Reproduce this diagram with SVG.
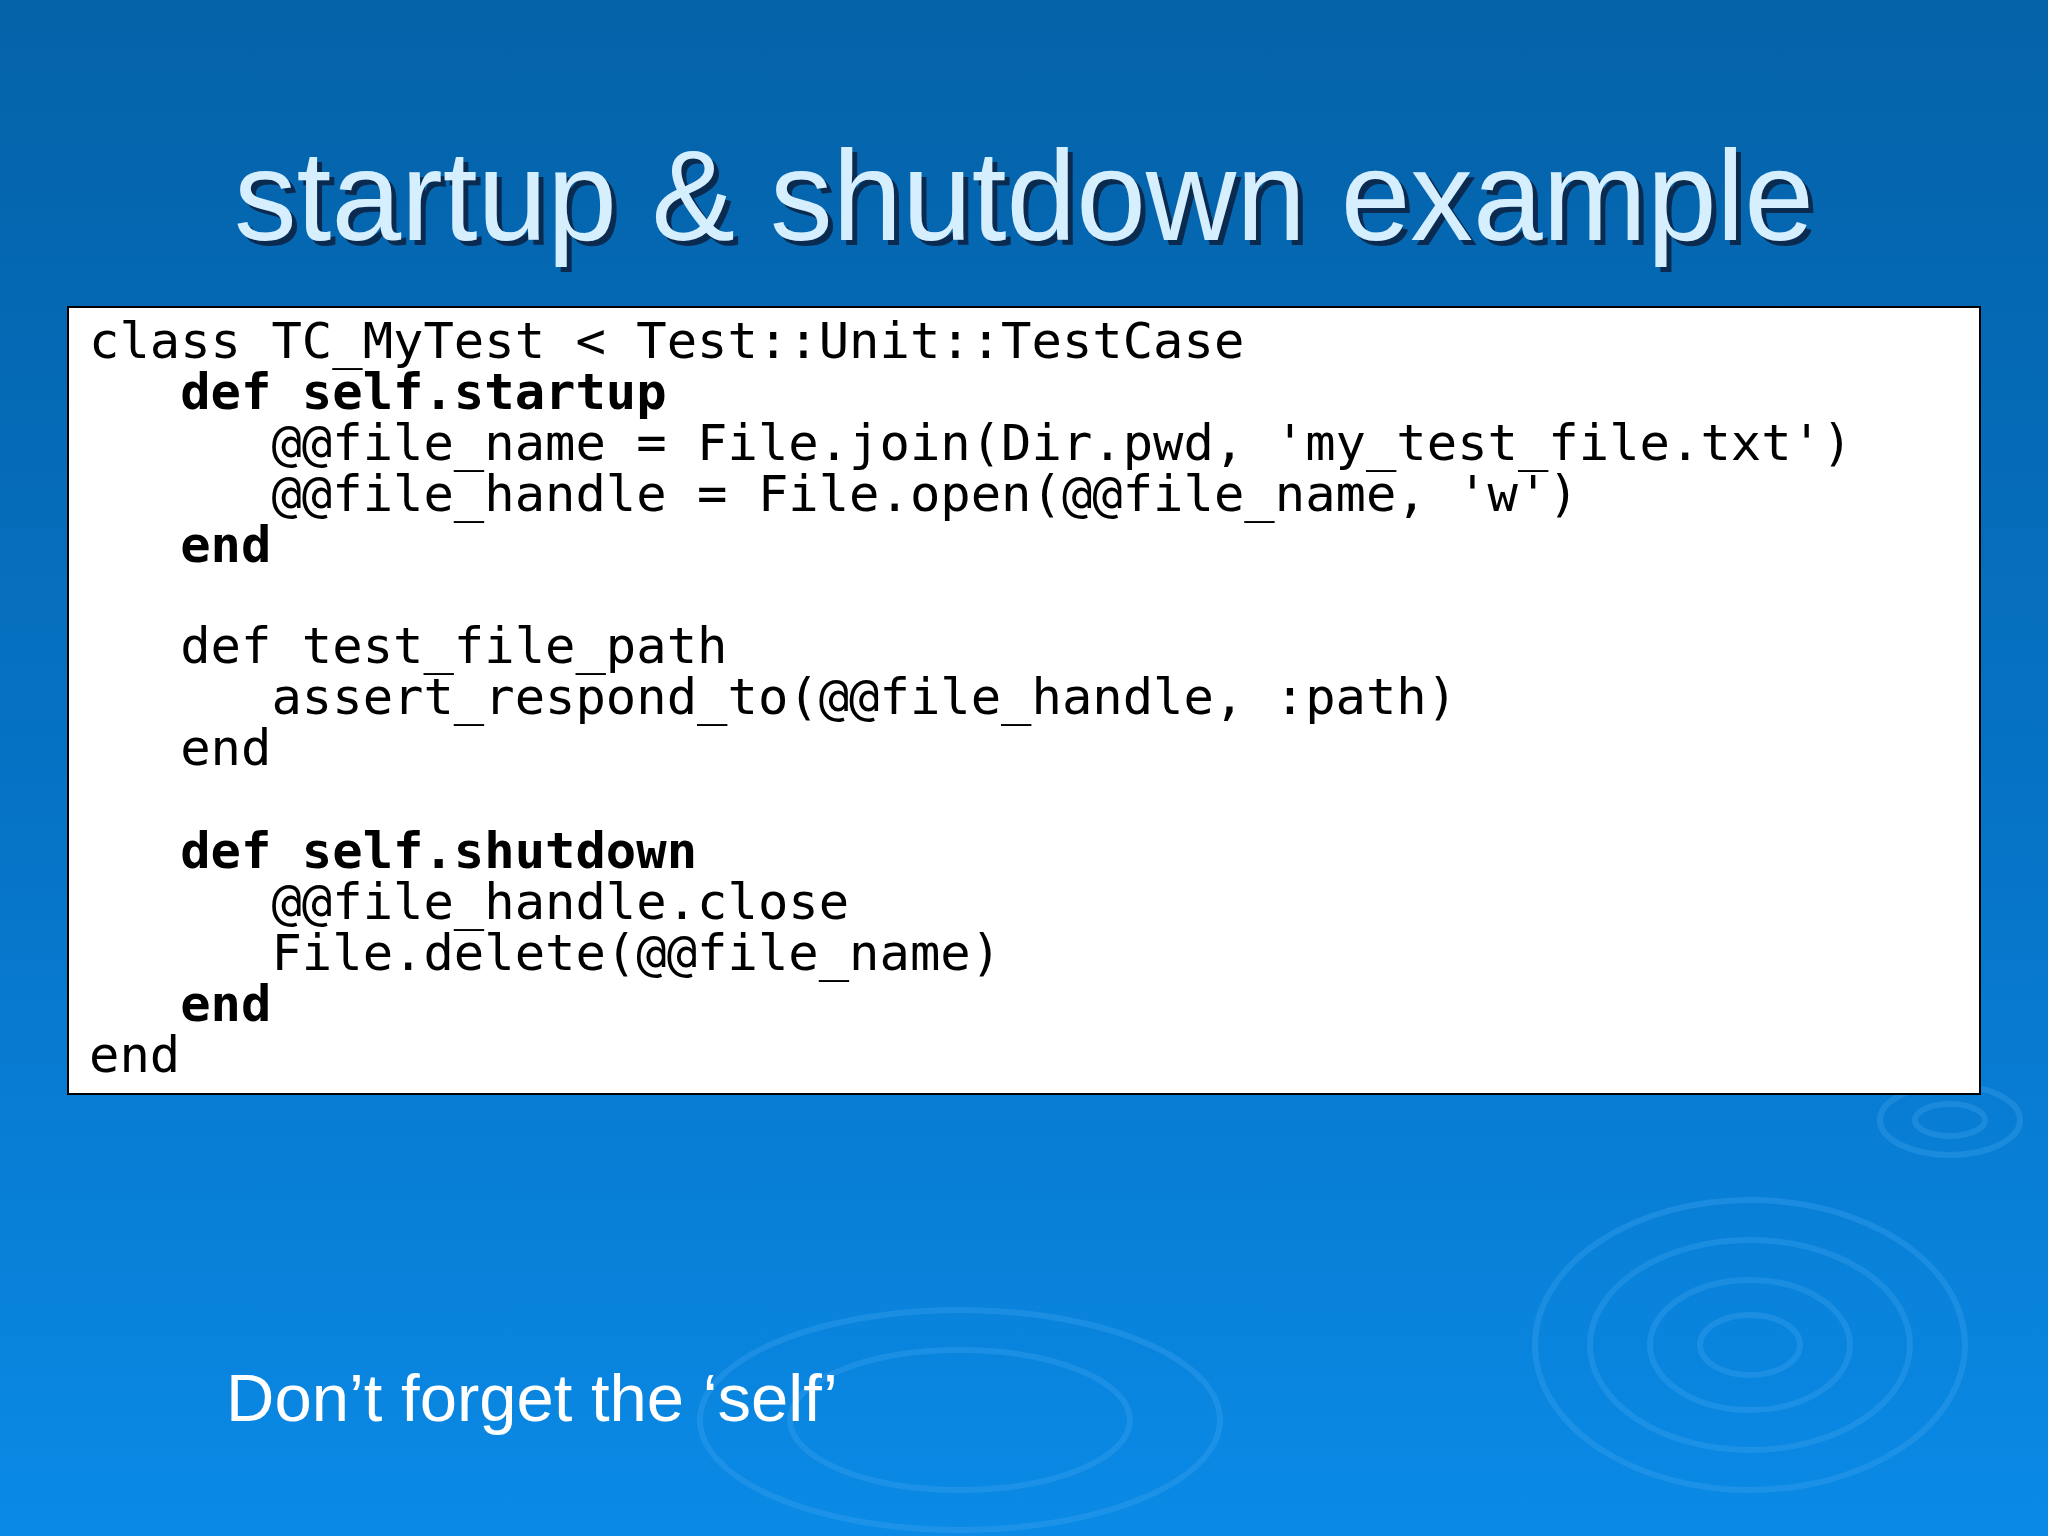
<svg xmlns="http://www.w3.org/2000/svg" width="2048" height="1536" viewBox="0 0 2048 1536">
<defs>
<linearGradient id="bg" x1="0" y1="0" x2="0" y2="1">
<stop offset="0" stop-color="#0462a8"/>
<stop offset="0.5" stop-color="#0672c4"/>
<stop offset="1" stop-color="#0a8ae6"/>
</linearGradient>
<style>
.code{font-family:"DejaVu Sans Mono","Liberation Mono",monospace;font-size:50.5px;fill:#000;white-space:pre}
.b{font-weight:bold}
.ring{fill:none;stroke:#3ea2ee;stroke-opacity:0.35;stroke-width:6}
</style>
</defs>
<rect width="2048" height="1536" fill="url(#bg)"/>
<g id="rings">
<ellipse class="ring" cx="1750" cy="1345" rx="215" ry="145"/>
<ellipse class="ring" cx="1750" cy="1345" rx="160" ry="105"/>
<ellipse class="ring" cx="1750" cy="1345" rx="100" ry="65"/>
<ellipse class="ring" cx="1750" cy="1345" rx="50" ry="30"/>
<ellipse class="ring" cx="1950" cy="1120" rx="70" ry="35"/>
<ellipse class="ring" cx="1950" cy="1120" rx="35" ry="16"/>
<ellipse class="ring" cx="960" cy="1420" rx="260" ry="110"/>
<ellipse class="ring" cx="960" cy="1420" rx="170" ry="70"/>
</g>
<g id="title">
<text x="1024" y="240" text-anchor="middle" font-family="Liberation Sans, Arial, sans-serif" font-size="128" fill="#0a2a50" textLength="1580" lengthAdjust="spacingAndGlyphs" transform="translate(5,5)">startup &amp; shutdown example</text>
<text x="1024" y="240" text-anchor="middle" font-family="Liberation Sans, Arial, sans-serif" font-size="128" fill="#d6efff" textLength="1580" lengthAdjust="spacingAndGlyphs">startup &amp; shutdown example</text>
</g>
<g id="codebox">
<rect x="68" y="307" width="1912" height="787" fill="#fff" stroke="#000" stroke-width="2"/>
<text class="code" x="89" y="358">class TC_MyTest &lt; Test::Unit::TestCase</text>
<text class="code b" x="89" y="409">   def self.startup</text>
<text class="code" x="89" y="460">      @@file_name = File.join(Dir.pwd, 'my_test_file.txt')</text>
<text class="code" x="89" y="511">      @@file_handle = File.open(@@file_name, 'w')</text>
<text class="code b" x="89" y="562">   end</text>
<text class="code" x="89" y="663">   def test_file_path</text>
<text class="code" x="89" y="714">      assert_respond_to(@@file_handle, :path)</text>
<text class="code" x="89" y="765">   end</text>
<text class="code b" x="89" y="868">   def self.shutdown</text>
<text class="code" x="89" y="919">      @@file_handle.close</text>
<text class="code" x="89" y="970">      File.delete(@@file_name)</text>
<text class="code b" x="89" y="1021">   end</text>
<text class="code" x="89" y="1072">end</text>
</g>
<g id="note">
<text x="226" y="1421" font-family="Liberation Sans, Arial, sans-serif" font-size="67" fill="#fff">Don’t forget the ‘self’</text>
</g>
</svg>
